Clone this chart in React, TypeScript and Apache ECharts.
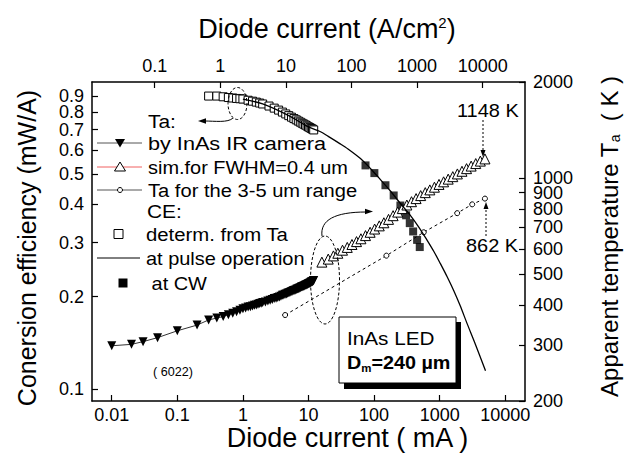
import React, { useEffect, useRef } from 'react';
import * as echarts from 'echarts';

const FONT = '"Liberation Sans", Arial, Helvetica, sans-serif';

// Axis ticks / ranges
const currentTicks = [0.01, 0.1, 1, 10, 100, 1000, 10000]; // mA (bottom)
const densityTicks = [0.1, 1, 10, 100, 1000, 10000]; // A/cm2 (top)
const ceTicks = [0.1, 0.2, 0.3, 0.4, 0.5, 0.6, 0.7, 0.8, 0.9, 1];
const tempTicks = [200, 300, 400, 500, 600, 700, 800, 900, 1000, 2000];
const currentRange = [0.005, 20000];
const ceRange = [0.0914, 1];
const tempRange = [200, 2000];
const mesaDiameterCm = 0.024; // 240 um
const jPerMilliAmp = 1e-3 / (Math.PI * (mesaDiameterCm / 2) ** 2);

// Ta by InAs IR camera
const cameraCurrent = [0.01, 0.02, 0.03, 0.05, 0.1, 0.2, 0.3, 0.4, 0.5, 0.6, 0.7, 0.8, 0.9, 1.0, 1.1, 1.2, 1.3, 1.4, 1.5, 1.6, 1.7, 1.8, 1.9, 2.0,
  2.2, 2.4, 2.6, 2.8, 3.0, 3.2, 3.4, 3.6, 3.8, 4.0, 4.2, 4.4, 4.6, 4.8, 5.0, 5.2, 5.4, 5.6, 5.8, 6.0, 6.2, 6.4, 6.6, 6.8, 7.0,
  7.2, 7.4, 7.6, 7.8, 8.0, 8.2, 8.4, 8.6, 8.8, 9.0, 9.2, 9.4, 9.6, 9.8, 10.0, 10.2, 10.4, 10.6, 10.8, 11.0, 11.2, 11.4, 11.6, 11.8, 12.0];
const cameraTemp = [298, 301, 307, 316, 332, 346, 359, 364, 368, 373, 377, 381, 385, 389, 391, 394, 395, 397, 399, 400, 402, 404, 405, 407,
  409, 412, 414, 416, 419, 420, 422, 424, 426, 429, 430, 432, 433, 435, 437, 438, 440, 441, 443, 444, 445, 446, 448, 449, 450,
  451, 452, 454, 455, 456, 457, 458, 459, 460, 461, 462, 463, 464, 465, 466, 467, 468, 469, 470, 472, 472, 473, 474, 476, 477];

// sim. for FWHM = 0.4 um
const simCurrent = [16, 20, 24, 28, 33, 39, 46, 54, 63, 74, 87, 102, 120, 141, 166, 195, 229, 269, 316, 372, 437, 513, 603, 708, 832, 977, 1148, 1349, 1585, 1862, 2188, 2570, 3020, 3548, 4169, 4900];
const simTemp = [545, 557, 570, 581, 594, 606, 619, 632, 645, 660, 676, 692, 708, 724, 742, 762, 782, 802, 823, 843, 862, 881, 900, 918, 936, 955, 973, 992, 1010, 1030, 1050, 1070, 1090, 1110, 1130, 1148];

// Ta for the 3-5 um range
const bandCurrent = [4.4, 154, 572, 1849, 3133, 4900];
const bandTemp = [372, 571, 676, 776, 827, 862];

// CE determined from Ta
const ceCurrent = [0.3, 0.4, 0.5, 0.6, 0.7, 0.8, 0.9, 1.0, 1.2, 1.4, 1.6, 1.8, 2, 2.5, 3, 3.5, 4, 4.5, 5, 5.5, 6, 6.5, 7, 7.5, 8, 8.5, 9, 9.5, 10, 10.5, 11, 11.5, 12];
const ceFromTa = [0.90, 0.90, 0.895, 0.89, 0.887, 0.884, 0.882, 0.88, 0.872, 0.866, 0.86, 0.854, 0.848, 0.835, 0.822, 0.81, 0.798, 0.787, 0.777, 0.768, 0.76, 0.753, 0.746, 0.74, 0.734, 0.729, 0.724, 0.719, 0.714, 0.71, 0.706, 0.702, 0.698];

// CE at pulse operation
const pulseCurrent = [1, 2, 5, 10, 15, 20, 30, 40, 62, 90, 125, 180, 252, 350, 480, 645, 820, 1026, 1300, 1641, 2050, 2630, 3500, 5000];
const pulseCE = [0.88, 0.848, 0.777, 0.714, 0.69, 0.665, 0.63, 0.605, 0.563, 0.52, 0.481, 0.44, 0.402, 0.37, 0.337, 0.305, 0.28, 0.256, 0.232, 0.209, 0.187, 0.163, 0.14, 0.1146];

// CE at CW
const cwCurrent = [74, 101, 149, 199, 252, 308, 350, 394, 453, 497];
const cwCE = [0.535, 0.505, 0.461, 0.427, 0.396, 0.368, 0.347, 0.326, 0.306, 0.29];

const legendLabels = ['Ta:', 'by InAs IR camera', 'sim.for FWHM=0.4 um', 'Ta for the 3-5 um range', 'CE:', 'determ. from Ta', 'at pulse operation', ' at CW'];

const lg = Math.log10;
const pairs = (xs: number[], ys: number[]) => xs.map((x, i) => [lg(x), lg(ys[i])]);
const fmt = (ticks: number[]) => (v: number) => {
  const t = ticks.find((k) => Math.abs(lg(k) - v) < 1e-6);
  return t === undefined ? '' : String(t);
};

const axisLineStyle = { onZero: false, lineStyle: { color: '#000', width: 1.5 } };
const tickStyle = { inside: true, length: 6, lineStyle: { color: '#000', width: 1.2 } };
const labelBase = { fontSize: 18, color: '#000', fontFamily: FONT };

function txt(text: string, x: number, y: number, size = 19, extra: any = {}, scaleX = 1.1) {
  return {
    type: 'text', x, y, z: 20, scaleX,
    style: { text, fontSize: size, fontFamily: FONT, fill: '#000', verticalAlign: 'middle', align: 'left', ...extra },
  };
}

function buildGraphic() {
  const rowY = [121, 143, 167, 190, 211, 234, 258, 283];
  const textX = [148, 148, 148, 148, 147, 146, 146, 146];
  const stretch = [1.1, 1.14, 1.05, 1.06, 1.1, 1.07, 1.05, 1.05];
  const g: any[] = [];
  legendLabels.forEach((l, i) => g.push(txt(l, textX[i], rowY[i], 19, {}, stretch[i])));
  // legend symbols
  const line = (y: number, color: string, x1 = 97, x2 = 142) => ({
    type: 'line', z: 20, shape: { x1, y1: y, x2, y2: y }, style: { stroke: color, lineWidth: 1 },
  });
  g.push(line(rowY[1], '#555'));
  g.push({ type: 'polygon', z: 21, shape: { points: [[115, rowY[1] - 4], [125, rowY[1] - 4], [120, rowY[1] + 4.5]] }, style: { fill: '#000' } });
  g.push(line(rowY[2], '#f06060'));
  g.push({ type: 'polygon', z: 21, shape: { points: [[120, rowY[2] - 5], [114.5, rowY[2] + 4], [125.5, rowY[2] + 4]] }, style: { fill: '#fff', stroke: '#000', lineWidth: 1 } });
  g.push(line(rowY[3], '#555'));
  g.push({ type: 'circle', z: 21, shape: { cx: 120, cy: rowY[3], r: 2.5 }, style: { fill: '#fff', stroke: '#000', lineWidth: 1 } });
  g.push({ type: 'rect', z: 21, shape: { x: 114, y: rowY[5] - 4.5, width: 9, height: 9 }, style: { fill: '#fff', stroke: '#000', lineWidth: 1 } });
  g.push(line(rowY[6], '#000', 97, 140));
  g.push({ type: 'rect', z: 21, shape: { x: 118.5, y: rowY[7] - 4.5, width: 9, height: 9 }, style: { fill: '#000' } });

  // dashed ellipses and curved arrows
  const dash = { fill: 'none', stroke: '#000', lineWidth: 1, lineDash: [3, 2] };
  g.push({ type: 'ellipse', z: 20, shape: { cx: 237.5, cy: 103.5, rx: 9.5, ry: 16 }, style: dash });
  g.push({ type: 'bezierCurve', z: 20, shape: { x1: 233, y1: 118, cpx1: 228, cpy1: 123, cpx2: 215, cpy2: 121, x2: 204, y2: 121 }, style: { fill: 'none', stroke: '#000', lineWidth: 1 } });
  g.push({ type: 'polygon', z: 20, shape: { points: [[198, 121], [206, 118.3], [206, 123.7]] }, style: { fill: '#000' } });
  g.push({ type: 'ellipse', z: 20, shape: { cx: 325, cy: 280, rx: 14.5, ry: 44 }, style: dash });
  g.push({ type: 'bezierCurve', z: 20, shape: { x1: 322, y1: 236, cpx1: 320, cpy1: 220, cpx2: 335, cpy2: 212, x2: 366, y2: 212 }, style: { fill: 'none', stroke: '#000', lineWidth: 1 } });
  g.push({ type: 'polygon', z: 20, shape: { points: [[373, 211.5], [365, 208.8], [365, 214.2]] }, style: { fill: '#000' } });

  // temperature callouts
  g.push(txt('1148 K', 457, 110, 19, {}, 1.05));
  g.push({ type: 'line', z: 20, shape: { x1: 483, y1: 120, x2: 483, y2: 151 }, style: { stroke: '#000', lineWidth: 1, lineDash: [2, 2] } });
  g.push({ type: 'polygon', z: 20, shape: { points: [[483, 157], [480.5, 150], [485.5, 150]] }, style: { fill: '#000' } });
  g.push(txt('862 K', 466, 245, 19, {}, 1.05));
  g.push({ type: 'line', z: 20, shape: { x1: 486, y1: 236, x2: 486, y2: 208 }, style: { stroke: '#000', lineWidth: 1, lineDash: [2, 2] } });
  g.push({ type: 'polygon', z: 20, shape: { points: [[486, 202], [483.5, 209], [488.5, 209]] }, style: { fill: '#000' } });

  // sample box
  g.push({ type: 'rect', z: 20, shape: { x: 344, y: 322, width: 117, height: 67 }, style: { fill: '#000' } });
  g.push({ type: 'rect', z: 21, shape: { x: 339, y: 317, width: 117, height: 66 }, style: { fill: '#fff', stroke: '#000', lineWidth: 1 } });
  g.push({ ...txt('InAs LED', 347, 338, 19, {}, 1.09), z: 22 });
  g.push({
    type: 'text', x: 347, y: 362, z: 22, scaleX: 1.04,
    style: {
      text: '{b|D}{s|m}{b|=240 µm}', verticalAlign: 'middle', align: 'left', fill: '#000',
      rich: {
        b: { fontSize: 19, fontWeight: 'bold', fontFamily: FONT, fill: '#000' },
        s: { fontSize: 11, fontWeight: 'bold', fontFamily: FONT, fill: '#000', padding: [12, 0, 0, 0] },
      },
    },
  });
  g.push(txt('( 6022)', 153, 372, 12, {}, 1.05));
  return g;
}

export default function App() {
  const ref = useRef<HTMLDivElement>(null);
  useEffect(() => {
    document.body.style.margin = '0';
    const chart = echarts.init(ref.current!, null, { renderer: 'svg' });
    chart.setOption({
      animation: false,
      backgroundColor: '#fff',
      grid: { left: 92, right: 102, top: 82, bottom: 53, containLabel: false, outerBoundsMode: 'none' },
      xAxis: [
        {
          type: 'value', position: 'bottom', min: lg(currentRange[0]), max: lg(currentRange[1]),
          name: 'Diode current ( mA )', nameLocation: 'middle', nameGap: 24, nameMoveOverlap: false,
          nameTextStyle: { fontSize: 27, lineHeight: 26, color: '#000', fontFamily: FONT, padding: [0, 0, 0, 78] },
          axisLine: axisLineStyle, splitLine: { show: false },
          axisTick: { ...tickStyle, customValues: currentTicks.map(lg) },
          axisLabel: { ...labelBase, lineHeight: 19, margin: 4, customValues: currentTicks.map(lg), formatter: fmt(currentTicks) },
        },
        {
          type: 'value', position: 'top', min: lg(currentRange[0] * jPerMilliAmp), max: lg(currentRange[1] * jPerMilliAmp),
          name: '{t|Diode current (A/cm}{sup|2}{t|)}', nameLocation: 'middle', nameGap: 40, nameMoveOverlap: false,
          nameTextStyle: {
            fontSize: 27, color: '#000', fontFamily: FONT, padding: [0, 0, 0, 37],
            rich: {
              t: { fontSize: 27, fontFamily: FONT, color: '#000' },
              sup: { fontSize: 15, fontFamily: FONT, color: '#000', padding: [0, 0, 12, 0] },
            },
          },
          axisLine: axisLineStyle, splitLine: { show: false },
          axisTick: { ...tickStyle, customValues: densityTicks.map(lg) },
          axisLabel: { ...labelBase, margin: 7, customValues: densityTicks.map(lg), formatter: fmt(densityTicks) },
        },
      ],
      yAxis: [
        {
          type: 'value', position: 'left', min: lg(ceRange[0]), max: lg(ceRange[1]),
          name: 'Conersion efficiency (mW/A)', nameLocation: 'middle', nameGap: 53, nameMoveOverlap: false,
          nameTextStyle: { fontSize: 25, color: '#000', fontFamily: FONT, padding: [0, 13, 0, 0] },
          axisLine: axisLineStyle, splitLine: { show: false },
          axisTick: { ...tickStyle, customValues: ceTicks.map(lg) },
          axisLabel: { ...labelBase, lineHeight: 13, margin: 8, customValues: ceTicks.map(lg), formatter: fmt(ceTicks) },
        },
        {
          type: 'value', position: 'right', min: lg(tempRange[0]), max: lg(tempRange[1]),
          name: '{t|Apparent temperature T}{sub|a}{t|  ( K )}', nameLocation: 'middle', nameGap: 71, nameMoveOverlap: false,
          nameTextStyle: {
            fontSize: 24, color: '#000', fontFamily: FONT, padding: [0, 0, 0, 10],
            rich: {
              t: { fontSize: 24, fontFamily: FONT, color: '#000' },
              sub: { fontSize: 14, fontFamily: FONT, color: '#000', padding: [12, 0, 0, 0] },
            },
          },
          axisLine: axisLineStyle, splitLine: { show: false },
          axisTick: { ...tickStyle, customValues: tempTicks.map(lg) },
          axisLabel: { ...labelBase, lineHeight: 13, margin: 8, customValues: tempTicks.map(lg), formatter: fmt(tempTicks) },
        },
      ],
      series: [
        {
          name: 'determ. from Ta', type: 'line', xAxisIndex: 0, yAxisIndex: 0, data: pairs(ceCurrent, ceFromTa),
          symbol: 'rect', symbolSize: 8, showAllSymbol: true,
          itemStyle: { color: '#fff', borderColor: '#000', borderWidth: 1 }, lineStyle: { width: 0 }, z: 3,
        },
        {
          name: 'at pulse operation', type: 'line', xAxisIndex: 0, yAxisIndex: 0, data: pairs(pulseCurrent, pulseCE),
          showSymbol: false, smooth: 0.3, lineStyle: { color: '#000', width: 1.3 }, z: 4,
        },
        {
          name: 'at CW', type: 'scatter', xAxisIndex: 0, yAxisIndex: 0, data: pairs(cwCurrent, cwCE),
          symbol: 'rect', symbolSize: 8, itemStyle: { color: '#000' }, z: 3,
        },
        {
          name: 'by InAs IR camera', type: 'line', xAxisIndex: 0, yAxisIndex: 1, data: pairs(cameraCurrent, cameraTemp),
          symbol: 'triangle', symbolRotate: 180, symbolSize: 9, showAllSymbol: true,
          itemStyle: { color: '#000' }, lineStyle: { color: '#333', width: 1 }, z: 3,
        },
        {
          name: 'sim.for FWHM=0.4 um', type: 'line', xAxisIndex: 0, yAxisIndex: 1, data: pairs(simCurrent, simTemp),
          symbol: 'triangle', symbolSize: 10, showAllSymbol: true,
          itemStyle: { color: '#fff', borderColor: '#000', borderWidth: 1 }, lineStyle: { width: 0, color: '#f06060' }, z: 3,
        },
        {
          name: 'Ta for the 3-5 um range', type: 'line', xAxisIndex: 0, yAxisIndex: 1, data: pairs(bandCurrent, bandTemp),
          symbol: 'circle', symbolSize: 5, showAllSymbol: true,
          itemStyle: { color: '#fff', borderColor: '#000', borderWidth: 1 }, lineStyle: { color: '#000', width: 1, type: [3, 3] }, z: 3,
        },
      ],
      graphic: buildGraphic(),
    });
    return () => chart.dispose();
  }, []);
  return <div ref={ref} style={{ width: 627, height: 454 }} />;
}
